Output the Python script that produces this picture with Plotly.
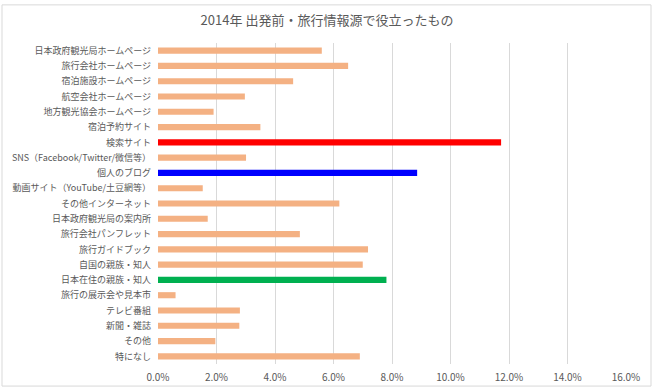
import plotly.graph_objects as go

categories = [
    "日本政府観光局ホームページ", "旅行会社ホームページ", "宿泊施設ホームページ", "航空会社ホームページ",
    "地方観光協会ホームページ", "宿泊予約サイト", "検索サイト", "SNS（Facebook/Twitter/微信等）",
    "個人のブログ", "動画サイト（YouTube/土豆網等）", "その他インターネット", "日本政府観光局の案内所",
    "旅行会社パンフレット", "旅行ガイドブック", "自国の親族・知人", "日本在住の親族・知人",
    "旅行の展示会や見本市", "テレビ番組", "新聞・雑誌", "その他", "特になし",
]
values = [5.6, 6.5, 4.62, 2.97, 1.9, 3.5, 11.73, 3.01, 8.86, 1.53, 6.2, 1.7,
          4.85, 7.18, 7.0, 7.81, 0.6, 2.8, 2.78, 1.96, 6.9]
highlight = {"検索サイト": "#FF0000", "個人のブログ": "#0000FF", "日本在住の親族・知人": "#00B050"}
base_color = "#F4B183"
colors = [highlight.get(c, base_color) for c in categories]
title = "2014年 出発前・旅行情報源で役立ったもの"

fig = go.Figure(go.Bar(
    x=[v / 100 for v in values], y=categories, orientation="h",
    marker=dict(color=colors, line=dict(width=0)), width=0.4,
))
fig.update_layout(
    width=654, height=390,
    margin=dict(l=158, r=28, t=43, b=26, autoexpand=False),
    paper_bgcolor="white", plot_bgcolor="white",
    font=dict(family="Noto Sans CJK JP", size=9, color="#595959"),
    title=dict(text=title, x=0.5, xanchor="center", y=0.948, yanchor="middle",
               font=dict(size=13, color="#595959", family="Noto Sans CJK JP")),
    showlegend=False,
)
fig.update_xaxes(range=[0, 0.16], dtick=0.02, tickformat=".1%", showgrid=True,
                 gridcolor="#D9D9D9", gridwidth=1, zeroline=False, showline=False,
                 automargin=False,
                 tickfont=dict(size=10, color="#595959"), ticklabelstandoff=6)
fig.update_yaxes(autorange="reversed", showgrid=False, showline=False, zeroline=False,
                 automargin=False,
                 ticks="", ticklabelstandoff=6, tickfont=dict(size=9, color="#595959"))
fig.add_shape(type="rect", xref="paper", yref="paper",
              x0=-156/468, x1=1 + 25/468, y0=-22/320, y1=1 + 38/320,
              line=dict(color="#D9D9D9", width=1), fillcolor="rgba(0,0,0,0)")
fig.write_html("out.html", config={"displayModeBar": False},
               post_script="document.body.style.margin='0';")
